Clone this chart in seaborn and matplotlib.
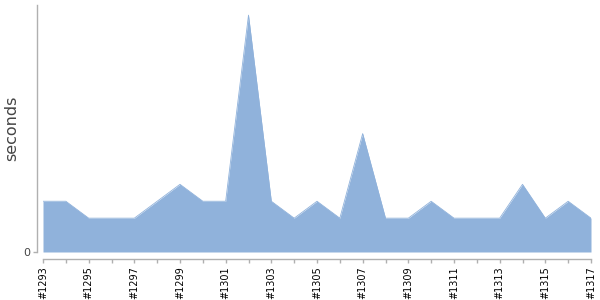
import matplotlib
matplotlib.use("Agg")
import matplotlib.pyplot as plt
import seaborn as sns
import pandas as pd

builds = [f"#{n}" for n in range(1293, 1318)]
seconds = [3, 3, 2, 2, 2, 3, 4, 3, 3, 14, 3, 2, 3, 2, 7, 2, 2, 3, 2, 2, 2, 4, 2, 3, 2]
y_ticks = [0]
y_max = 14.6

sns.set_theme(style="white")
plt.rcParams['font.family'] = ['DejaVu Sans']

df = pd.DataFrame({"pos": range(len(builds)), "build": builds, "seconds": seconds})

fig = plt.figure(figsize=(6, 3), dpi=100)
ax = fig.add_axes([43 / 600, 1 - 252 / 300, (591 - 43) / 600, (252 - 5) / 300])

fill = "#90b2db"
sns.lineplot(data=df, x="pos", y="seconds", ax=ax, color=fill, linewidth=0.6)
ax.fill_between(df["pos"], 0, df["seconds"], color=fill, linewidth=0)

ax.set_xlim(0, len(builds) - 1)
ax.set_ylim(0, y_max)
ax.set_xticks(list(df["pos"]))
ax.set_xticklabels([b if i % 2 == 0 else "" for i, b in enumerate(builds)])
ax.set_yticks(y_ticks)
ax.set_yticklabels([str(t) for t in y_ticks])
ax.set_xlabel("")
ax.set_ylabel("seconds", fontsize=11.5, color="#444444")
ax.yaxis.set_label_coords(-0.044, 0.5)

for s in ["top", "right"]:
    ax.spines[s].set_visible(False)
ax.spines["left"].set_position(("outward", 4))
ax.spines["bottom"].set_position(("outward", 5))
for s in ["left", "bottom"]:
    ax.spines[s].set_color("#b0b0b0")
    ax.spines[s].set_linewidth(1)
ax.tick_params(axis="both", which="both", direction="out", length=3, width=1,
               color="#b0b0b0", pad=2, bottom=True, left=True)
ax.tick_params(axis="x", labelrotation=90, labelsize=7, labelcolor="black")
ax.tick_params(axis="y", labelsize=8, labelcolor="#444444")

fig.savefig("out.png", dpi=100)
